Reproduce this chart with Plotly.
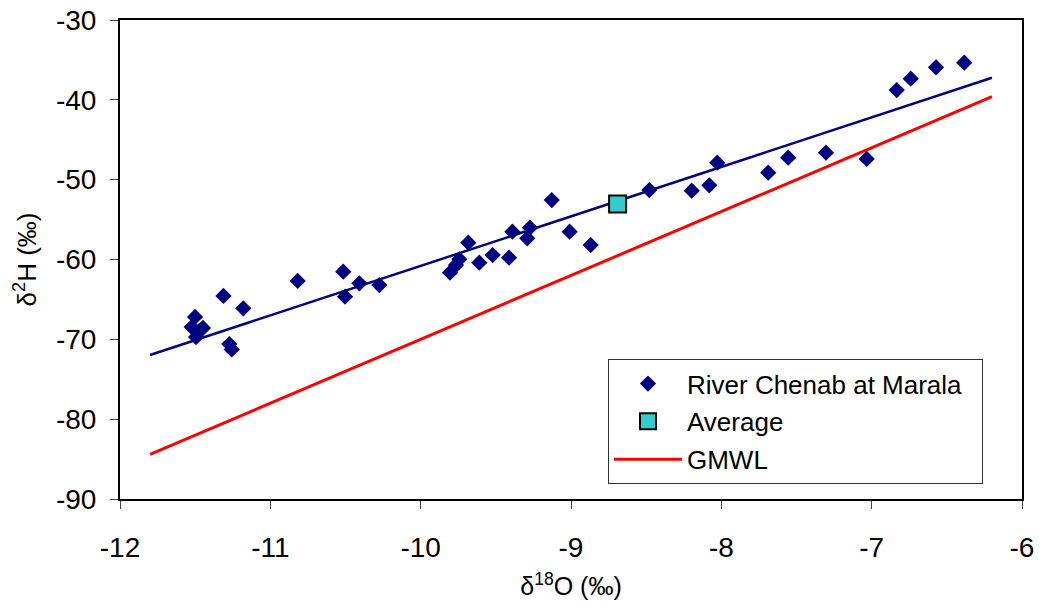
import plotly.graph_objects as go

# River Chenab at Marala samples
d18O = [-11.501, -11.523, -11.448, -11.494, -11.474, -11.312, -11.180, -11.273, -11.257,
        -10.818, -10.515, -10.503, -10.408, -10.275, -9.805, -9.765, -9.743, -9.683,
        -9.610, -9.521, -9.412, -9.390, -9.291, -9.273, -9.128, -9.009, -8.869, -8.479,
        -8.197, -8.080, -8.027, -7.688, -7.555, -7.304, -7.033, -6.833, -6.740, -6.572, -6.384]
d2H = [-67.2, -68.46, -68.58, -69.71, -68.96, -64.57, -66.11, -70.59, -71.27,
       -62.69, -61.53, -64.66, -62.98, -63.20, -61.65, -60.69, -59.98, -57.90,
       -60.40, -59.44, -59.78, -56.52, -57.35, -56.02, -52.55, -56.52, -58.19, -51.30,
       -51.38, -50.71, -47.88, -49.13, -47.25, -46.62, -47.41, -38.77, -37.35, -35.93, -35.35]

avg_x = [-8.69]
avg_y = [-53.05]

line_x = [-11.8, -6.2]
# local regression line: d2H = 6.2 * d18O + 1.2
reg_slope, reg_int = 6.2, 1.2
# GMWL: d2H = 8 * d18O + 10
gmwl_slope, gmwl_int = 8.0, 10.0

x_ticks = [-12, -11, -10, -9, -8, -7, -6]
y_ticks = [-90, -80, -70, -60, -50, -40, -30]

FONT = "Arial, 'Liberation Sans', sans-serif"

fig = go.Figure()
fig.add_trace(go.Scatter(
    x=line_x, y=[reg_slope * v + reg_int for v in line_x], mode="lines",
    line=dict(color="#000080", width=2.5), showlegend=False, hoverinfo="skip"))
fig.add_trace(go.Scatter(
    x=line_x, y=[gmwl_slope * v + gmwl_int for v in line_x], mode="lines",
    line=dict(color="#FF0000", width=3), name="GMWL", legendrank=3, legendgroup="c"))
fig.add_trace(go.Scatter(
    x=d18O, y=d2H, mode="markers", name="River Chenab at Marala\u00a0\u00a0",
    marker=dict(symbol="diamond", size=12.5, color="#000080"), legendrank=1, legendgroup="a"))
fig.add_trace(go.Scatter(
    x=avg_x, y=avg_y, mode="markers", name="Average",
    marker=dict(symbol="square", size=17, color="#33CCCC", line=dict(color="black", width=2)),
    legendrank=2, legendgroup="b"))

axis_common = dict(
    showgrid=False, zeroline=False, showline=True, linecolor="black", linewidth=2,
    mirror=True, ticks="outside", ticklen=8, tickcolor="#444", tickwidth=1,
    tickfont=dict(size=28, color="black", family=FONT), automargin=False,
)
fig.update_xaxes(range=[-12, -6], tickvals=x_ticks, ticktext=[str(v) for v in x_ticks],
                 title=dict(text="δ<sup>18</sup>O (‰)", font=dict(size=25, family=FONT, color="black"), standoff=16),
                 ticklabelstandoff=14, **axis_common)
fig.update_yaxes(range=[-90, -30], tickvals=y_ticks, ticktext=[str(v) for v in y_ticks],
                 title=dict(text="δ<sup>2</sup>H (‰)", font=dict(size=26, family=FONT, color="black"), standoff=12),
                 ticklabelstandoff=8, **axis_common)

fig.update_layout(
    width=1043, height=615, autosize=False,
    margin=dict(l=120, r=21, t=20, b=116, autoexpand=False),
    paper_bgcolor="white", plot_bgcolor="white",
    font=dict(family=FONT, color="black"),
    legend=dict(x=0.541, y=0.292, xanchor="left", yanchor="top",
                bgcolor="white", bordercolor="#333", borderwidth=1,
                font=dict(size=26, family=FONT, color="black"),
                traceorder="grouped", tracegroupgap=1, itemwidth=68),
)

fig.write_html("out.html", config={"displayModeBar": False},
               post_script="document.body.style.margin='0';document.body.style.overflow='hidden';")
